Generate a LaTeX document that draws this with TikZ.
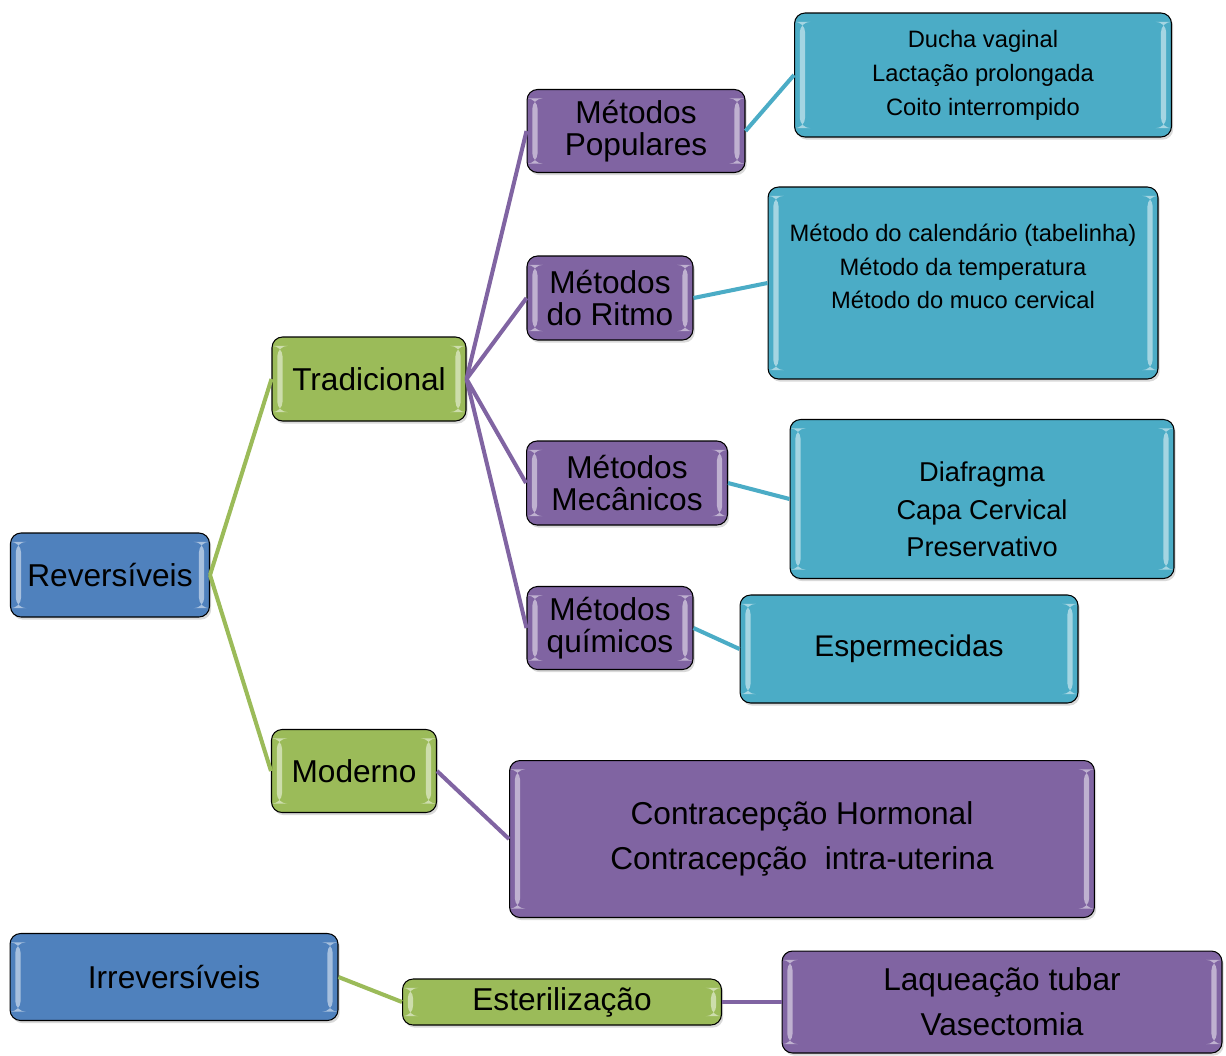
\documentclass[tikz,border=0pt]{standalone}
\usepackage{fontspec}
\setmainfont{Liberation Sans}
\usetikzlibrary{shadows}

\definecolor{azul}{HTML}{4F81BD}
\definecolor{verde}{HTML}{9BBB59}
\definecolor{roxo}{HTML}{8064A2}
\definecolor{ciano}{HTML}{4BACC6}

\newcommand{\grande}{\fontsize{18}{18}\selectfont}
\newcommand{\media}{\fontsize{15.5}{21.5}\selectfont}
\newcommand{\pequena}{\fontsize{13.5}{19.3}\selectfont}
\newcommand{\lista}{\fontsize{18}{25.5}\selectfont}

\tikzset{
	caixa/.style={draw=black, line width=0.6pt, rounded corners=6pt, align=center, inner sep=0pt,
		drop shadow={opacity=0.3, shadow xshift=1pt, shadow yshift=-1.5pt},
		path picture={
			\fill[white, opacity=0.5] ([xshift=3pt,yshift=-5pt]path picture bounding box.north west) rectangle ([xshift=6pt,yshift=5pt]path picture bounding box.south west);
			\fill[white, opacity=0.5] ([xshift=-3pt,yshift=-5pt]path picture bounding box.north east) rectangle ([xshift=-6pt,yshift=5pt]path picture bounding box.south east);
		}},
	ramo/.style={line width=2.3pt},
}

\begin{document}
\begin{tikzpicture}[x=0.02cm, y=-0.02cm]
		%%%%% START %%%%%
		\useasboundingbox (0, 0) rectangle (1226, 1055);
		
		\node[caixa, fill=azul, minimum width=3.98cm, minimum height=1.68cm, font=\grande] (rev) at (110, 575) {Reversíveis};
		\node[caixa, fill=verde, minimum width=3.88cm, minimum height=1.68cm, font=\grande] (trad) at (369, 379) {Tradicional};
		\node[caixa, fill=verde, minimum width=3.30cm, minimum height=1.66cm, font=\grande] (mod) at (354, 771) {Moderno};
		
		\node[caixa, fill=roxo, minimum width=4.36cm, minimum height=1.66cm, font=\grande] (pop) at (636, 131) {Métodos\\Populares};
		\node[caixa, fill=roxo, minimum width=3.32cm, minimum height=1.68cm, font=\grande] (rit) at (610, 298) {Métodos\\do Ritmo};
		\node[caixa, fill=roxo, minimum width=4.02cm, minimum height=1.68cm, font=\grande] (mec) at (627, 483) {Métodos\\Mecânicos};
		\node[caixa, fill=roxo, minimum width=3.32cm, minimum height=1.66cm, font=\grande] (qui) at (610, 628) {Métodos\\químicos};
		
		\node[caixa, fill=ciano, minimum width=7.54cm, minimum height=2.48cm, font=\pequena] (popex) at (983, 75) {Ducha vaginal\\Lactação prolongada\\Coito interrompido};
		\node[caixa, fill=ciano, minimum width=7.80cm, minimum height=3.84cm, font=\pequena] (ritex) at (963, 283) {Método do calendário (tabelinha)\\Método da temperatura\\Método do muco cervical\rule[-19pt]{0pt}{0pt}};
		\node[caixa, fill=ciano, minimum width=7.68cm, minimum height=3.18cm, font=\media] (mecex) at (982, 499) {\rule{0pt}{23pt}Diafragma\\Capa Cervical\\Preservativo};
		\node[caixa, fill=ciano, minimum width=6.76cm, minimum height=2.16cm, font=\fontsize{17}{17}\selectfont] (esp) at (909, 649) {Espermecidas};
		
		\node[caixa, fill=roxo, minimum width=11.70cm, minimum height=3.14cm, font=\lista] (hor) at (802, 839) {Contracepção Hormonal\\Contracepção\ \ intra-uterina};
		
		\node[caixa, fill=azul, minimum width=6.56cm, minimum height=1.74cm, font=\grande] (irr) at (174, 977) {Irreversíveis};
		\node[caixa, fill=verde, minimum width=6.38cm, minimum height=0.92cm, font=\grande] (est) at (562, 1002) {Esterilização};
		\node[caixa, fill=roxo, minimum width=8.80cm, minimum height=2.04cm, font=\lista] (laq) at (1002, 1002) {Laqueação tubar\\Vasectomia};
		
		% ligacoes
		\draw[ramo, verde] (rev.east) -- (trad.west);
		\draw[ramo, verde] (rev.east) -- (mod.west);
		
		\draw[ramo, roxo] (trad.east) -- (pop.west);
		\draw[ramo, roxo] (trad.east) -- (rit.west);
		\draw[ramo, roxo] (trad.east) -- (mec.west);
		\draw[ramo, roxo] (trad.east) -- (qui.west);
		\draw[ramo, roxo] (mod.east) -- (hor.west);
		
		\draw[ramo, ciano] (pop.east) -- (popex.west);
		\draw[ramo, ciano] (rit.east) -- (ritex.west);
		\draw[ramo, ciano] (mec.east) -- (mecex.west);
		\draw[ramo, ciano] (qui.east) -- (esp.west);
		
		\draw[ramo, verde] (irr.east) -- (est.west);
		\draw[ramo, roxo] (est.east) -- (laq.west);
		
		%%%%% END %%%%%
	\end{tikzpicture}
\end{document}
